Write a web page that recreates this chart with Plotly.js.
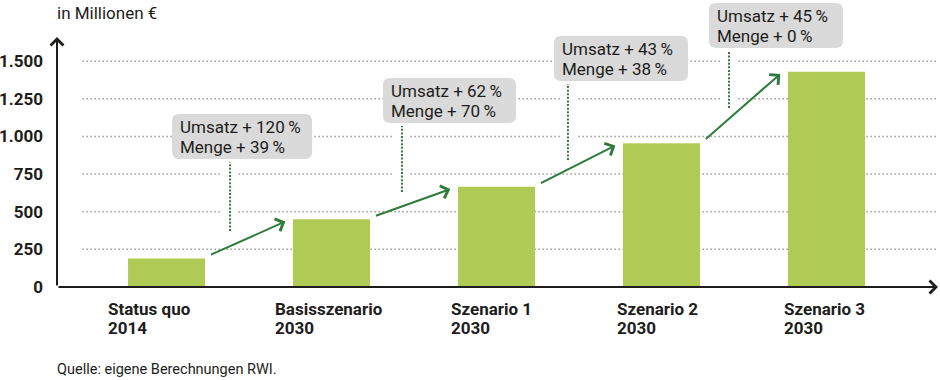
<!DOCTYPE html>
<html><head><meta charset="utf-8">
<script src="https://cdn.plot.ly/plotly-3.0.1.min.js"></script>
<style>html,body{margin:0;padding:0;background:#fff}#chart{width:940px;height:380px}</style>
</head><body><div id="chart"></div>
<script>
// ---- data ----
const categories = ['Status quo', 'Basisszenario', 'Szenario 1', 'Szenario 2', 'Szenario 3'];
const years = ['2014', '2030', '2030', '2030', '2030'];
const values = [190, 450, 665, 955, 1430];
const umsatzChange = ['+ 120', '+ 62', '+ 43', '+ 45'];
const mengeChange = ['+ 39', '+ 70', '+ 38', '+ 0'];
const tickValues = [0, 250, 500, 750, 1000, 1250, 1500];
const tickLabels = ['0', '250', '500', '750', '1.000', '1.250', '1.500'];
const unitLabel = 'in Millionen €';
const sourceLabel = 'Quelle: eigene Berechnungen RWI.';

// ---- layout / style ----
const xRange = [-0.664, 4.676];
const yRange = [0, 1906];
const yAxisTop = 1660;
const FONT = 'Roboto, "Open Sans", sans-serif';
const INK = '#1d1d1b';
const GREEN_BAR = '#b0cb55';
const GREEN_DARK = '#2f7b3b';
const BOX = '#dadada';
const catShift = [-58.5, -56.5, -45.5, -44.5, -42.5];
const callouts = [
  {lx: 0.385, ly0: 372, ly1: 830, left: -58, w: 140},
  {lx: 1.427, ly0: 631, ly1: 1069, left: -19, w: 133},
  {lx: 2.433, ly0: 843, ly1: 1348, left: -14, w: 134},
  {lx: 3.409, ly0: 1189, ly1: 1567, left: -20, w: 134}
];
const BOX_H = 45, BOX_GAP = 3, R = 7;

const trace = {
  type: 'bar', x: categories, y: values, width: 0.467,
  marker: {color: GREEN_BAR, line: {width: 0}}, hoverinfo: 'skip'
};

const shapes = [];
tickValues.slice(1).forEach(v => shapes.push({
  type: 'line', xref: 'x', yref: 'y', x0: -0.51, x1: xRange[1], y0: v, y1: v,
  line: {color: '#9d9d9d', width: 1.5, dash: '1.5px,2.5px'}, layer: 'below'
}));
callouts.forEach(c => shapes.push({
  type: 'line', xref: 'x', yref: 'y', x0: c.lx, x1: c.lx, y0: c.ly0, y1: c.ly1,
  line: {color: '#ffffff', width: 16}, layer: 'below'
}));
callouts.forEach(c => shapes.push({
  type: 'line', xref: 'x', yref: 'y', x0: c.lx, x1: c.lx, y0: c.ly0, y1: c.ly1,
  line: {color: GREEN_DARK, width: 2, dash: '2px,1.6px'}, layer: 'below'
}));
callouts.forEach(c => {
  const l = c.left, r = c.left + c.w, b = BOX_GAP, t = BOX_GAP + BOX_H;
  const p = `M${l+R},${b} L${r-R},${b} Q${r},${b} ${r},${b+R} L${r},${t-R} Q${r},${t} ${r-R},${t} ` +
            `L${l+R},${t} Q${l},${t} ${l},${t-R} L${l},${b+R} Q${l},${b} ${l+R},${b} Z`;
  shapes.push({
    type: 'path', xref: 'x', yref: 'y', xsizemode: 'pixel', ysizemode: 'pixel',
    xanchor: c.lx, yanchor: c.ly1, path: p, fillcolor: BOX, line: {width: 0}, layer: 'below'
  });
});

const annotations = [];
// axis arrows
annotations.push({xref: 'x', yref: 'y', axref: 'x', ayref: 'y', x: xRange[0], y: yAxisTop, ax: xRange[0], ay: 0,
  text: '', showarrow: true, arrowhead: 4, arrowsize: 1.25, arrowwidth: 2, arrowcolor: INK});
annotations.push({xref: 'x', yref: 'y', axref: 'x', ayref: 'y', x: xRange[1], y: 0, ax: xRange[0], ay: 0,
  text: '', showarrow: true, arrowhead: 4, arrowsize: 1.25, arrowwidth: 2, arrowcolor: INK});
// growth arrows between bars
for (let i = 0; i < values.length - 1; i++) {
  annotations.push({xref: 'x', yref: 'y', axref: 'x', ayref: 'y',
    x: i + 1 - 0.28, y: values[i + 1] - 15, ax: i + 0.26, ay: values[i] + 20,
    text: '', showarrow: true, arrowhead: 4, arrowsize: 1.3, arrowwidth: 2, arrowcolor: GREEN_DARK});
}
// callout texts
callouts.forEach((c, i) => {
  const base = {xref: 'x', yref: 'y', x: c.lx, y: c.ly1, xanchor: 'left', yanchor: 'middle',
    xshift: c.left + 6, showarrow: false, font: {family: FONT, size: 17, color: INK}};
  annotations.push(Object.assign({}, base, {text: 'Umsatz ' + umsatzChange[i] + '\u2009%', yshift: BOX_GAP + 32}));
  annotations.push(Object.assign({}, base, {text: 'Menge ' + mengeChange[i] + '\u2009%', yshift: BOX_GAP + 12}));
});
// category labels
categories.forEach((c, i) => {
  const base = {xref: 'x', yref: 'y', x: i, y: 0, xanchor: 'left', yanchor: 'middle',
    xshift: catShift[i] - 2, showarrow: false, font: {family: FONT, size: 17, color: INK, weight: 'bold'}};
  annotations.push(Object.assign({}, base, {text: c, yshift: -22}));
  annotations.push(Object.assign({}, base, {text: years[i], yshift: -41}));
});
annotations.push({xref: 'paper', yref: 'paper', x: 0, y: 1, xanchor: 'left', yanchor: 'middle',
  xshift: -2, yshift: -12.5, text: unitLabel, showarrow: false, font: {family: FONT, size: 17, color: INK}});
annotations.push({xref: 'paper', yref: 'y', x: 0, y: 0, xanchor: 'left', yanchor: 'middle',
  xshift: -2, yshift: -82, text: sourceLabel, showarrow: false, font: {family: FONT, size: 14.5, color: INK}});

const layout = {
  width: 940, height: 380,
  margin: {l: 57, r: 2, t: 0, b: 93, pad: 0},
  paper_bgcolor: '#ffffff', plot_bgcolor: '#ffffff',
  showlegend: false,
  font: {family: FONT, color: INK},
  xaxis: {type: 'category', range: xRange, showgrid: false, zeroline: false, showline: false,
    showticklabels: false, ticks: '', fixedrange: true},
  yaxis: {range: yRange, tickvals: tickValues, ticktext: tickLabels, showgrid: false, zeroline: false,
    showline: false, ticks: '', ticklabelstandoff: 13,
    tickfont: {family: FONT, size: 17, color: INK, weight: 'bold'}, fixedrange: true},
  shapes: shapes,
  annotations: annotations
};

Plotly.newPlot('chart', [trace], layout, {displayModeBar: false, staticPlot: true});
</script>
</body></html>
